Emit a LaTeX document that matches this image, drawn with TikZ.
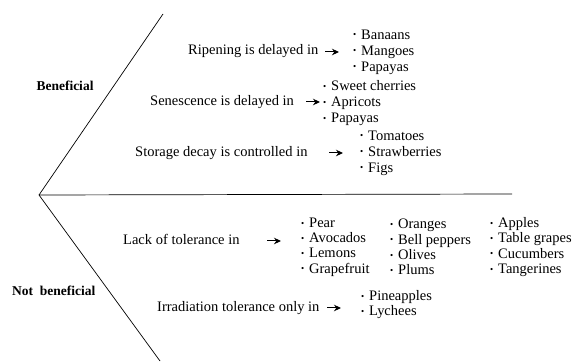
\documentclass[tikz,border=0pt]{standalone}
\usepackage{fontspec}
\setmainfont{Liberation Serif}
\usetikzlibrary{arrows.meta,positioning}

\tikzset{
    lbl/.style={font=\fontsize{14.5}{16}\selectfont, inner sep=0pt, anchor=west},
    side/.style={font=\fontsize{13.5}{15}\selectfont\bfseries, inner sep=0pt},
    items/.style={font=\fontsize{14.5}{16}\selectfont, inner sep=0pt, anchor=west, align=left},
    arr/.style={-{Stealth[length=7pt,width=6.5pt]}, line width=1pt},
}
\newcommand{\itm}{\raisebox{1.2pt}{\fontsize{9}{9}\selectfont\textbullet}\,\,}

\begin{document}
\begin{tikzpicture}[x=1pt,y=-1pt]
        \useasboundingbox (0,0) rectangle (576,363);

        % The fork
        \coordinate (apex) at (39,195);
        \coordinate (topend) at (163,14);
        \coordinate (midend) at (512,194);
        \coordinate (botend) at (160,361);
        \draw[line width=0.7pt] (topend) -- (apex) -- (botend);
        \draw[line width=0.7pt] (apex) -- (midend);

        % Side labels
        \node[side] (ben) at (65,86) {Beneficial};
        \node[side, anchor=west] (notben) at (12,291) {Not\ \ beneficial};

        % Beneficial effects
        \node[lbl] (ripe) at (188,51) {Ripening is delayed in};
        \node[items] (ripeL) at (353,52) {\itm Banaans\\ \itm Mangoes\\ \itm Papayas};
        \coordinate (ripeA) at (325,52);
        \draw[arr] (ripeA) -- ++(14,0);

        \node[lbl] (senes) at (150,102) {Senescence is delayed in};
        \node[items] (senesL) at (323,103) {\itm Sweet\ cherries\\ \itm Apricots\\ \itm Papayas};
        \coordinate (senesA) at (306,102);
        \draw[arr] (senesA) -- ++(14,0);

        \node[lbl] (decay) at (135,153) {Storage decay is controlled in};
        \node[items] (decayL) at (360,153) {\itm Tomatoes\\ \itm Strawberries\\ \itm Figs};
        \coordinate (decayA) at (329,153);
        \draw[arr] (decayA) -- ++(14,0);

        % Not beneficial
        \node[lbl] (lack) at (123,239) {Lack of tolerance in};
        \node[items, font=\fontsize{14.5}{15.3}\selectfont] (lackA) at (301,247) {\itm Pear\\ \itm Avocados\\ \itm Lemons\\ \itm Grapefruit};
        \node[items, font=\fontsize{14.5}{15.3}\selectfont] (lackB) at (390,247) {\itm Oranges\\ \itm Bell peppers\\ \itm Olives\\ \itm Plums};
        \node[items, font=\fontsize{14.5}{15.3}\selectfont] (lackC) at (490,247) {\itm Apples\\ \itm Table grapes\\ \itm Cucumbers\\ \itm Tangerines};
        \coordinate (lackArr) at (267,241);
        \draw[arr] (lackArr) -- ++(14,0);

        \node[lbl] (irrad) at (157,308) {Irradiation tolerance only in};
        \node[items, font=\fontsize{14.5}{15}\selectfont] (irradL) at (361,305) {\itm Pineapples\\ \itm Lychees};
        \coordinate (irradA) at (327,308);
        \draw[arr] (irradA) -- ++(14,0);
\end{tikzpicture}
\end{document}
